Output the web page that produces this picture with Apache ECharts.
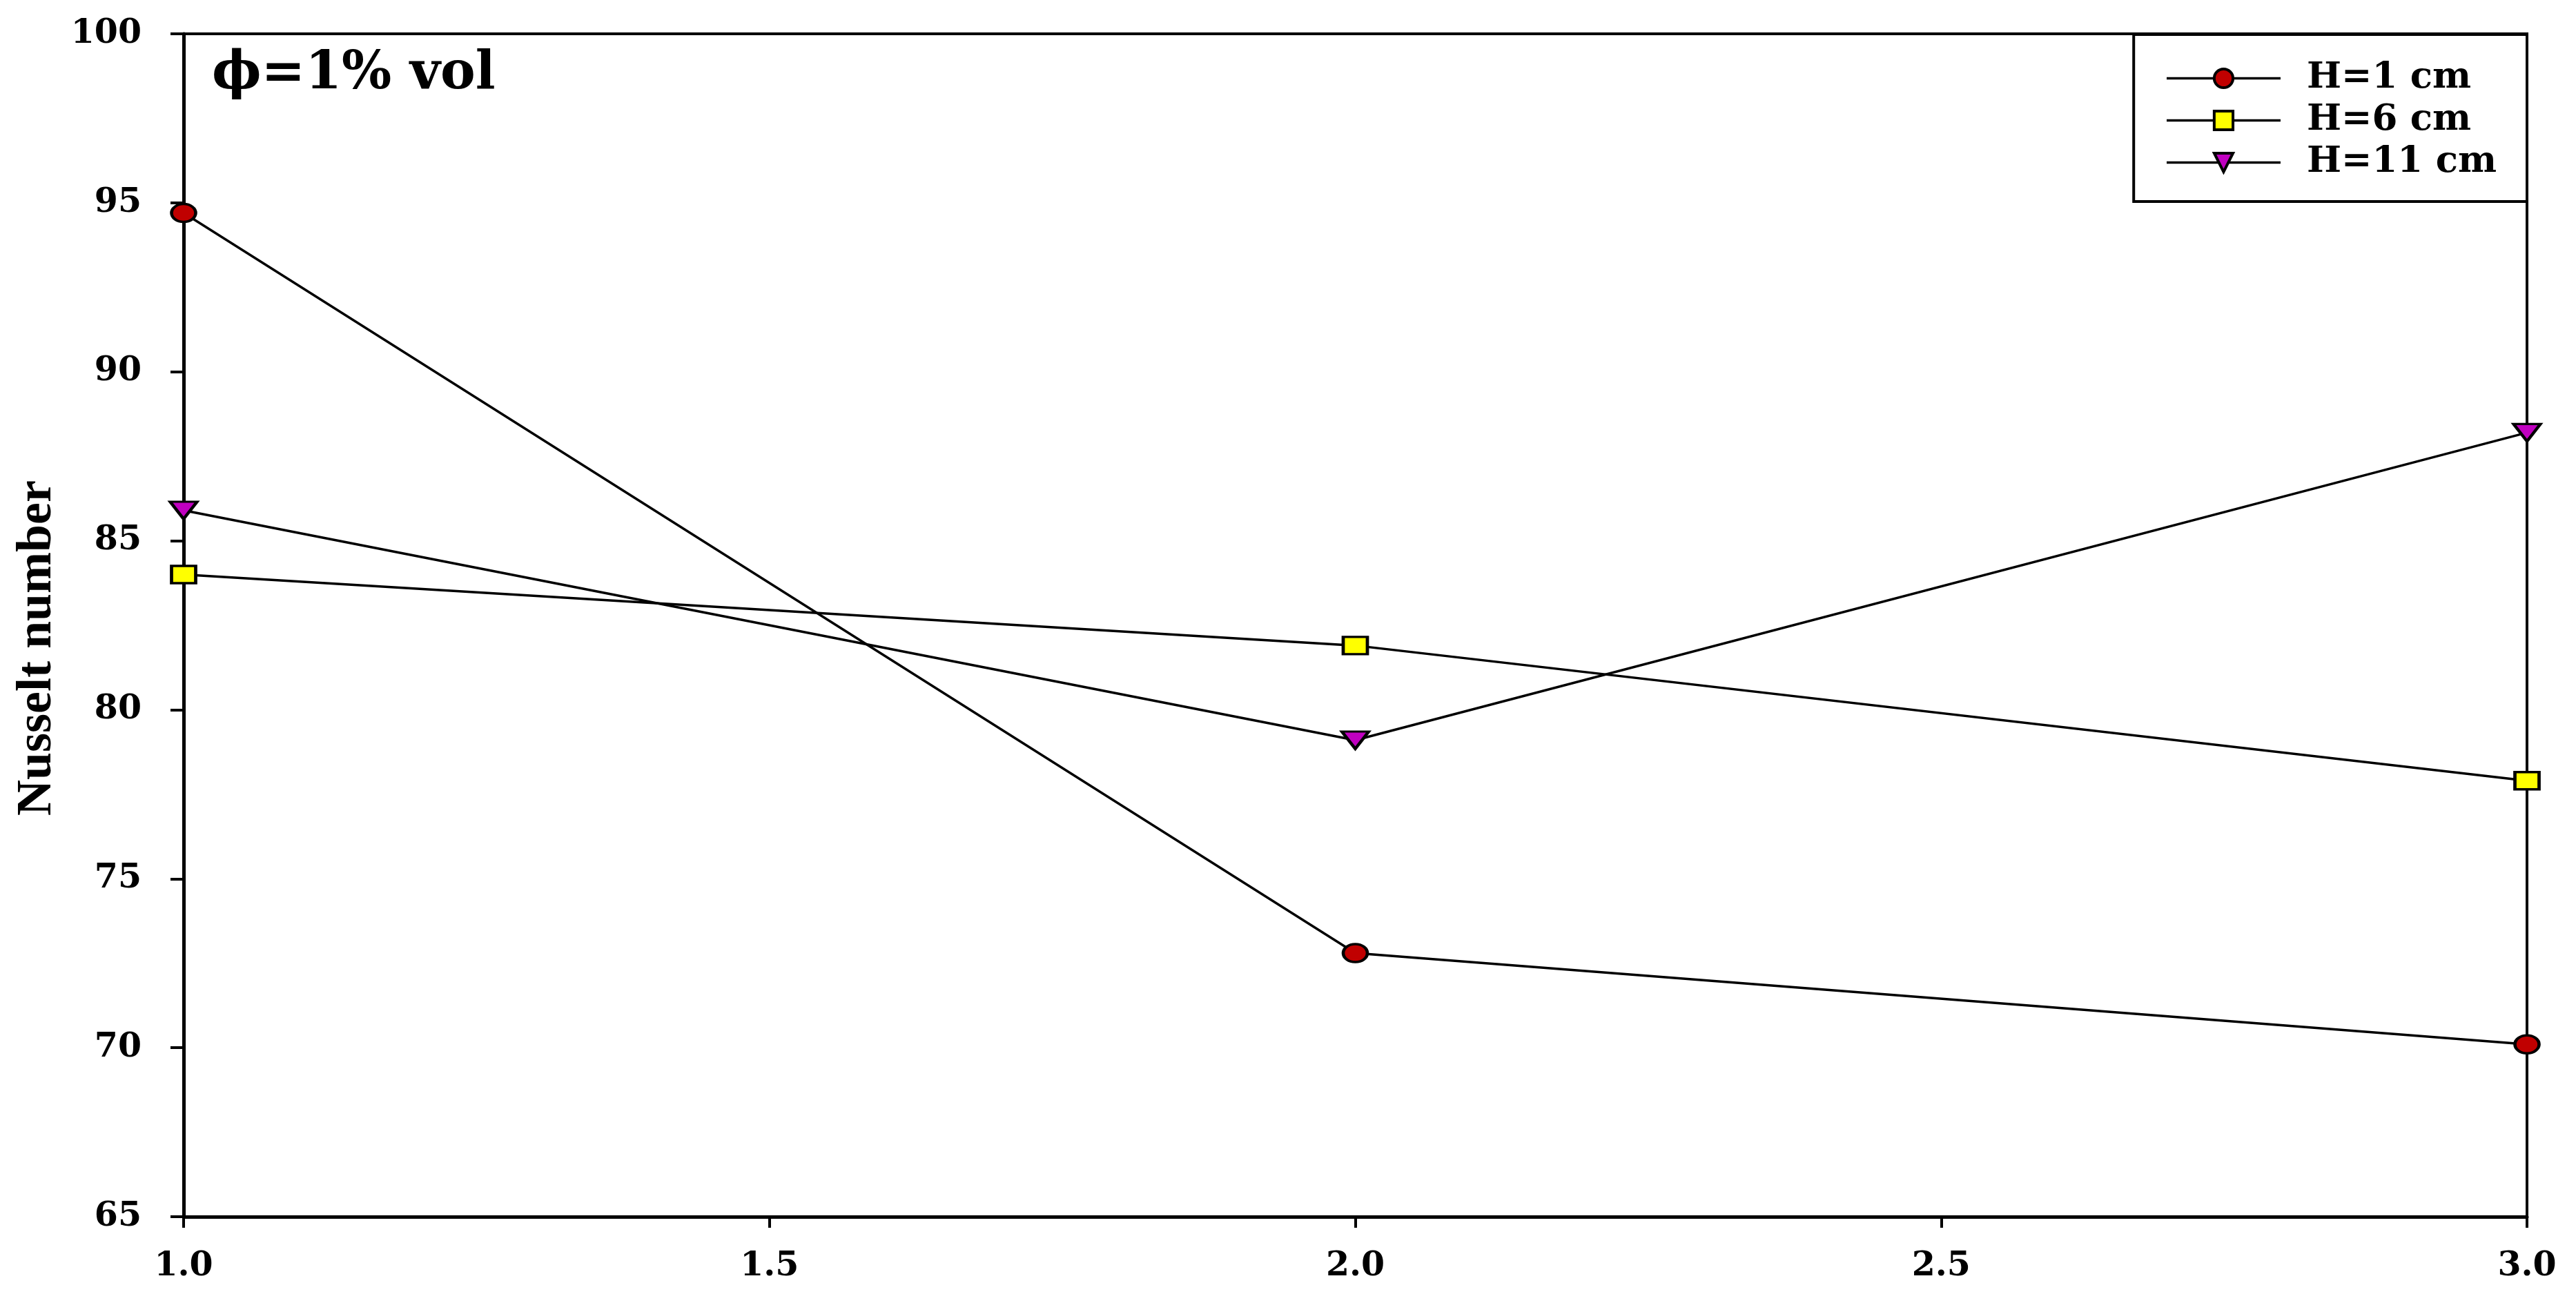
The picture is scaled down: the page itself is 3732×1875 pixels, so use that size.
<!DOCTYPE html>
<html>
<head>
<meta charset="utf-8">
<script src="https://cdn.jsdelivr.net/npm/echarts@6/dist/echarts.min.js"></script>
<style>
  html, body { margin: 0; padding: 0; background: #fff; }
  #main { width: 3732px; height: 1875px; }
</style>
</head>
<body>
<div id="main"></div>
<script>
// data
var xValues = [1.0, 2.0, 3.0];
var seriesNames = ['H=1 cm', 'H=6 cm', 'H=11 cm'];
var nuH1 = [94.7, 72.8, 70.1];
var nuH6 = [84.0, 81.9, 77.9];
var nuH11 = [85.9, 79.1, 88.2];
var xTicks = [1.0, 1.5, 2.0, 2.5, 3.0];
var yTicks = [65, 70, 75, 80, 85, 90, 95, 100];
var annotation = 'ϕ=1% vol';
var yTitle = 'Nusselt number';

function pairs(xs, ys) {
    return xs.map(function (x, i) { return [x, ys[i]]; });
}

var labelFont = 'DejaVu Serif';

var myChart = echarts.init(document.getElementById('main'));

function lineSeries(name, values, symbol, size, color, rotate) {
    return {
        name: name,
        type: 'line',
        data: pairs(xValues, values),
        symbol: symbol,
        symbolSize: size,
        symbolRotate: rotate || 0,
        showSymbol: true,
        lineStyle: { color: '#000', width: 3.5 },
        itemStyle: { color: color, borderColor: '#000', borderWidth: 4 },
        emphasis: { disabled: true },
        animation: false,
        z: 3
    };
}

myChart.setOption({
    backgroundColor: '#fff',
    animation: false,
    title: {
        text: annotation,
        left: 307,
        top: 70,
        padding: 0,
        textStyle: { fontFamily: labelFont, fontWeight: 'bold', fontSize: 76, color: '#000' }
    },
    legend: {
        orient: 'vertical',
        right: 71,
        top: 50,
        padding: [37, 44, 30, 46],
        borderColor: '#000',
        borderWidth: 4,
        backgroundColor: '#fff',
        itemWidth: 165,
        itemHeight: 34,
        itemGap: 8,
        selectedMode: false,
        lineStyle: { color: '#000', width: 3.5 },
        itemStyle: { borderColor: '#000', borderWidth: 4 },
        textStyle: {
            fontFamily: labelFont, fontWeight: 'bold', fontSize: 53, color: '#000',
            lineHeight: 49, padding: [0, 0, 0, 33]
        },
        data: seriesNames
    },
    grid: {
        left: 266,
        right: 71,
        top: 49,
        bottom: 112,
        show: true,
        borderColor: '#000',
        borderWidth: 4,
        backgroundColor: 'transparent',
        outerBoundsMode: 'none'
    },
    xAxis: {
        type: 'value',
        min: xTicks[0],
        max: xTicks[xTicks.length - 1],
        interval: xTicks[1] - xTicks[0],
        axisLine: { show: true, lineStyle: { color: '#000', width: 5 } },
        axisTick: { show: true, inside: false, length: 16, lineStyle: { color: '#000', width: 4 } },
        splitLine: { show: false },
        axisLabel: {
            margin: 48,
            fontFamily: labelFont, fontWeight: 'bold', fontSize: 49, color: '#000',
            formatter: function (v) { return v.toFixed(1); }
        }
    },
    yAxis: {
        type: 'value',
        min: yTicks[0],
        max: yTicks[yTicks.length - 1],
        interval: yTicks[1] - yTicks[0],
        name: yTitle,
        nameLocation: 'middle',
        nameRotate: 90,
        nameGap: 176,
        nameTextStyle: {
            fontFamily: 'Liberation Serif', fontWeight: 'bold', fontSize: 72, color: '#000',
            padding: [0, 66, 0, 0]
        },
        axisLine: { show: true, lineStyle: { color: '#000', width: 5 } },
        axisTick: { show: true, inside: false, length: 19, lineStyle: { color: '#000', width: 4 } },
        splitLine: { show: false },
        axisLabel: {
            margin: 61,
            fontFamily: labelFont, fontWeight: 'bold', fontSize: 49, color: '#000'
        }
    },
    series: [
        lineSeries(seriesNames[0], nuH1, 'circle', [35, 26], '#C00000'),
        lineSeries(seriesNames[1], nuH6, 'rect', [35, 25], '#FFFF00'),
        lineSeries(seriesNames[2], nuH11, 'triangle', [39, 25], '#C000C0', 180)
    ]
});
</script>
</body>
</html>
